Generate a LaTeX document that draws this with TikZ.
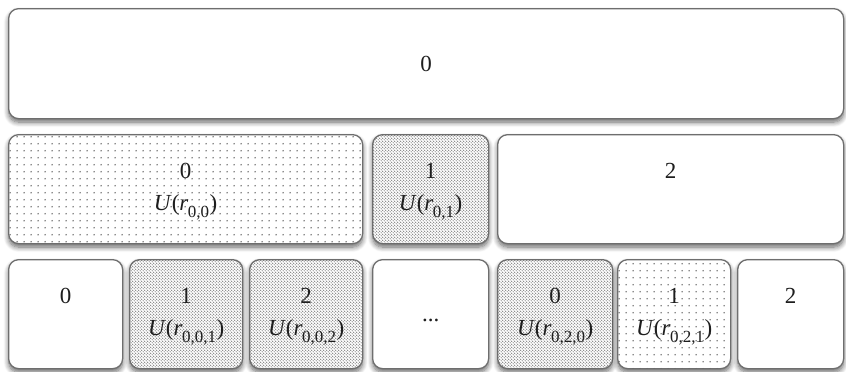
\documentclass[tikz,border=0pt]{standalone}
\usepackage{fontspec}
\setmainfont{Liberation Serif}
\usetikzlibrary{patterns.meta,shadows.blur}
\newcommand{\Ur}[1]{\textit{U}(\textit{r}\kern-0.5pt\raisebox{-7pt}{\fontsize{17}{17}\selectfont #1}\kern0.5pt)}
\tikzdeclarepattern{name=sparsedots, type=uncolored,
  bounding box={(0pt,0pt) and (7pt,6.7pt)}, tile size={(7pt,6.7pt)},
  code={\fill (3.5pt,3.35pt) circle (0.85pt);}}
\tikzdeclarepattern{name=densedots, type=uncolored,
  bounding box={(0pt,0pt) and (3.4pt,3.4pt)}, tile size={(3.4pt,3.4pt)},
  code={\fill (0.85pt,0.85pt) circle (0.7pt); \fill (2.55pt,2.55pt) circle (0.7pt);}}
\definecolor{edge}{HTML}{6E6E6E}
\definecolor{ink}{HTML}{1E1E1E}
\tikzset{
  cell/.style={draw=edge, line width=1.3pt, fill=white, rounded corners=10pt,
    anchor=north west, inner sep=0pt,
    blur shadow={shadow xshift=0pt, shadow yshift=-3.5pt, shadow blur radius=5pt,
      shadow blur steps=8, shadow opacity=60}},
  lbl/.style={align=center, text=ink, inner sep=0pt,
    font=\fontsize{23}{32}\selectfont},
  sparse/.style={postaction={pattern={sparsedots}, pattern color=black!60}},
  dense/.style={postaction={pattern={densedots}, pattern color=black!60}},
}
\newcommand{\cellbox}[8]{% name, x1, y1, x2, y2, style, text shift, text
  \node[cell, #6, minimum width={#4pt-#2pt}, minimum height={#5pt-#3pt}] (#1) at (#2,#3) {};
  \node[lbl] (#1-t) at ([yshift=-#7pt]#1.center) {#8};}
\begin{document}
\begin{tikzpicture}[x=1pt,y=-1pt]
\useasboundingbox (0,0) rectangle (846,372);
% top
\cellbox{top}{8}{8}{843}{118}{}{0}{0}
% row 2
\cellbox{a}{8}{134}{362}{243}{sparse}{2.5}{0\\ \Ur{0,0}}
\cellbox{b}{372}{134}{488}{243}{dense}{2.5}{1\\ \Ur{0,1}}
\cellbox{c}{497}{134}{843}{243}{}{2.5}{2\\ \phantom{\Ur{0,0}}}
% row 3
\cellbox{d0}{8}{259}{122}{368}{}{2.5}{0\\ \phantom{\Ur{0,0}}}
\cellbox{d1}{129}{259}{242}{368}{dense}{2.5}{1\\ \Ur{0,0,1}}
\cellbox{d2}{249}{259}{362}{368}{dense}{2.5}{2\\ \Ur{0,0,2}}
\cellbox{d3}{372}{259}{488}{368}{}{6}{...}
\cellbox{d4}{497}{259}{612}{368}{dense}{2.5}{0\\ \Ur{0,2,0}}
\cellbox{d5}{617}{259}{730}{368}{sparse}{2.5}{1\\ \Ur{0,2,1}}
\cellbox{d6}{737}{259}{843}{368}{}{2.5}{2\\ \phantom{\Ur{0,0}}}
\end{tikzpicture}
\end{document}
